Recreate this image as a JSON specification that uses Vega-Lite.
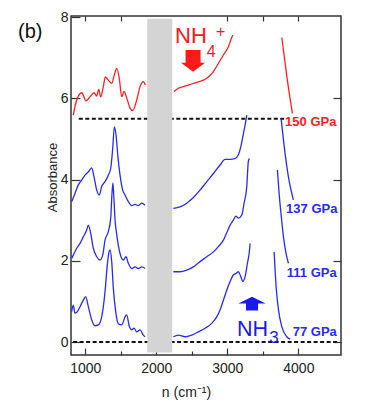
{
  "$schema": "https://vega.github.io/schema/vega-lite/v6.json",
  "width": 270,
  "height": 339,
  "autosize": {"type": "none"},
  "padding": {"left": 71, "top": 16, "right": 24, "bottom": 59},
  "background": "white",
  "config": {
    "view": {"stroke": "#333", "strokeWidth": 1.5},
    "font": "Liberation Sans",
    "axis": {"labelFont": "Liberation Sans", "titleFont": "Liberation Sans", "labelColor": "#222", "titleColor": "#222", "tickColor": "#333", "domain": false, "grid": false}
  },
  "resolve": {"axis": {"x": "independent", "y": "independent"}},
  "layer": [
    {
      "data": {"values": [{"x": 910, "x2": 3800, "y": 5.5}, {"x": 830, "x2": 4560, "y": 0}]},
      "mark": {"type": "rule", "strokeDash": [4, 2.5], "strokeWidth": 2, "color": "#111"},
      "encoding": {
        "x": {"field": "x", "type": "quantitative", "scale": {"domain": [800, 4600], "nice": false, "zero": false},
          "axis": {"orient": "bottom", "values": [1000, 1500, 2000, 2500, 3000, 3500, 4000], "format": "d",
            "labelExpr": "datum.value % 1000 === 0 ? datum.label : ''",
            "tickSize": {"condition": {"test": "datum.value % 1000 === 0", "value": -7}, "value": -4},
            "tickWidth": 1.2, "labelFontSize": 14, "labelPadding": 13,
            "title": "n (cm⁻¹)", "titleFontSize": 14, "titleFontWeight": "normal", "titleX": 115, "titleY": 30, "titleBaseline": "top"}},
        "x2": {"field": "x2"},
        "y": {"field": "y", "type": "quantitative", "scale": {"domain": [-0.32, 8.03], "nice": false, "zero": false},
          "axis": {"orient": "left", "values": [0, 2, 4, 6, 8], "tickSize": -9, "tickWidth": 1.2, "labelFontSize": 14, "labelPadding": 12,
            "title": "Absorbance", "titleFontSize": 13, "titleFontWeight": "normal", "titleX": -19, "titleY": 161, "titleBaseline": "middle"}}
      }
    },
    {
      "data": {"values": [{"x": 1873, "x2": 2225, "y": -0.26, "y2": 7.96}]},
      "mark": {"type": "rect", "color": "#d4d4d4"},
      "encoding": {
        "x": {"field": "x", "type": "quantitative", "scale": {"domain": [800, 4600], "nice": false, "zero": false},
          "axis": {"orient": "top", "values": [1000, 1500, 3000, 3500, 4000], "labels": false, "tickSize": -5, "tickWidth": 1.2, "title": null}},
        "x2": {"field": "x2"},
        "y": {"field": "y", "type": "quantitative", "scale": {"domain": [-0.32, 8.03], "nice": false, "zero": false},
          "axis": {"orient": "right", "values": [0, 2, 4, 6], "labels": false, "tickSize": -8, "tickWidth": 1.2, "title": null}},
        "y2": {"field": "y2"}
      }
    },
    {
      "data": {"values": [
        {"p": "150 GPa", "seg": "150a", "x": 832, "y": 5.59},
        {"p": "150 GPa", "seg": "150a", "x": 880, "y": 5.96},
        {"p": "150 GPa", "seg": "150a", "x": 951, "y": 6.14},
        {"p": "150 GPa", "seg": "150a", "x": 1011, "y": 5.94},
        {"p": "150 GPa", "seg": "150a", "x": 1068, "y": 6.04},
        {"p": "150 GPa", "seg": "150a", "x": 1124, "y": 6.14},
        {"p": "150 GPa", "seg": "150a", "x": 1162, "y": 6.06},
        {"p": "150 GPa", "seg": "150a", "x": 1190, "y": 6.22},
        {"p": "150 GPa", "seg": "150a", "x": 1218, "y": 6.04},
        {"p": "150 GPa", "seg": "150a", "x": 1255, "y": 6.29},
        {"p": "150 GPa", "seg": "150a", "x": 1283, "y": 6.53},
        {"p": "150 GPa", "seg": "150a", "x": 1325, "y": 6.45},
        {"p": "150 GPa", "seg": "150a", "x": 1373, "y": 6.37},
        {"p": "150 GPa", "seg": "150a", "x": 1410, "y": 6.58},
        {"p": "150 GPa", "seg": "150a", "x": 1444, "y": 6.74},
        {"p": "150 GPa", "seg": "150a", "x": 1480, "y": 6.49},
        {"p": "150 GPa", "seg": "150a", "x": 1514, "y": 6.04},
        {"p": "150 GPa", "seg": "150a", "x": 1546, "y": 6.17},
        {"p": "150 GPa", "seg": "150a", "x": 1593, "y": 5.96},
        {"p": "150 GPa", "seg": "150a", "x": 1631, "y": 5.76},
        {"p": "150 GPa", "seg": "150a", "x": 1669, "y": 5.70},
        {"p": "150 GPa", "seg": "150a", "x": 1725, "y": 5.96},
        {"p": "150 GPa", "seg": "150a", "x": 1772, "y": 6.29},
        {"p": "150 GPa", "seg": "150a", "x": 1818, "y": 6.41},
        {"p": "150 GPa", "seg": "150a", "x": 1846, "y": 6.33},
        {"p": "150 GPa", "seg": "150b", "x": 2250, "y": 6.17},
        {"p": "150 GPa", "seg": "150b", "x": 2311, "y": 6.25},
        {"p": "150 GPa", "seg": "150b", "x": 2381, "y": 6.29},
        {"p": "150 GPa", "seg": "150b", "x": 2452, "y": 6.33},
        {"p": "150 GPa", "seg": "150b", "x": 2522, "y": 6.37},
        {"p": "150 GPa", "seg": "150b", "x": 2592, "y": 6.41},
        {"p": "150 GPa", "seg": "150b", "x": 2663, "y": 6.45},
        {"p": "150 GPa", "seg": "150b", "x": 2733, "y": 6.53},
        {"p": "150 GPa", "seg": "150b", "x": 2804, "y": 6.66},
        {"p": "150 GPa", "seg": "150b", "x": 2874, "y": 6.86},
        {"p": "150 GPa", "seg": "150b", "x": 2945, "y": 7.07},
        {"p": "150 GPa", "seg": "150b", "x": 3015, "y": 7.27},
        {"p": "150 GPa", "seg": "150b", "x": 3049, "y": 7.44},
        {"p": "150 GPa", "seg": "150b", "x": 3077, "y": 7.56},
        {"p": "150 GPa", "seg": "150c", "x": 3767, "y": 7.50},
        {"p": "150 GPa", "seg": "150c", "x": 3837, "y": 6.55},
        {"p": "150 GPa", "seg": "150c", "x": 3916, "y": 5.63},
        {"p": "137 GPa", "seg": "137a", "x": 810, "y": 3.46},
        {"p": "137 GPa", "seg": "137a", "x": 856, "y": 3.66},
        {"p": "137 GPa", "seg": "137a", "x": 903, "y": 3.87},
        {"p": "137 GPa", "seg": "137a", "x": 951, "y": 3.99},
        {"p": "137 GPa", "seg": "137a", "x": 997, "y": 4.11},
        {"p": "137 GPa", "seg": "137a", "x": 1044, "y": 4.19},
        {"p": "137 GPa", "seg": "137a", "x": 1091, "y": 4.29},
        {"p": "137 GPa", "seg": "137a", "x": 1124, "y": 4.07},
        {"p": "137 GPa", "seg": "137a", "x": 1162, "y": 3.74},
        {"p": "137 GPa", "seg": "137a", "x": 1198, "y": 3.62},
        {"p": "137 GPa", "seg": "137a", "x": 1232, "y": 3.83},
        {"p": "137 GPa", "seg": "137a", "x": 1279, "y": 3.95},
        {"p": "137 GPa", "seg": "137a", "x": 1325, "y": 4.11},
        {"p": "137 GPa", "seg": "137a", "x": 1359, "y": 4.28},
        {"p": "137 GPa", "seg": "137a", "x": 1387, "y": 4.77},
        {"p": "137 GPa", "seg": "137a", "x": 1410, "y": 5.30},
        {"p": "137 GPa", "seg": "137a", "x": 1434, "y": 5.10},
        {"p": "137 GPa", "seg": "137a", "x": 1458, "y": 4.61},
        {"p": "137 GPa", "seg": "137a", "x": 1490, "y": 4.11},
        {"p": "137 GPa", "seg": "137a", "x": 1528, "y": 3.74},
        {"p": "137 GPa", "seg": "137a", "x": 1560, "y": 3.62},
        {"p": "137 GPa", "seg": "137a", "x": 1607, "y": 3.46},
        {"p": "137 GPa", "seg": "137a", "x": 1655, "y": 3.36},
        {"p": "137 GPa", "seg": "137a", "x": 1701, "y": 3.39},
        {"p": "137 GPa", "seg": "137a", "x": 1748, "y": 3.36},
        {"p": "137 GPa", "seg": "137a", "x": 1795, "y": 3.42},
        {"p": "137 GPa", "seg": "137a", "x": 1842, "y": 3.37},
        {"p": "137 GPa", "seg": "137b", "x": 2240, "y": 3.29},
        {"p": "137 GPa", "seg": "137b", "x": 2335, "y": 3.33},
        {"p": "137 GPa", "seg": "137b", "x": 2429, "y": 3.42},
        {"p": "137 GPa", "seg": "137b", "x": 2522, "y": 3.56},
        {"p": "137 GPa", "seg": "137b", "x": 2616, "y": 3.74},
        {"p": "137 GPa", "seg": "137b", "x": 2711, "y": 3.95},
        {"p": "137 GPa", "seg": "137b", "x": 2804, "y": 4.15},
        {"p": "137 GPa", "seg": "137b", "x": 2898, "y": 4.36},
        {"p": "137 GPa", "seg": "137b", "x": 2968, "y": 4.50},
        {"p": "137 GPa", "seg": "137b", "x": 3039, "y": 4.50},
        {"p": "137 GPa", "seg": "137b", "x": 3109, "y": 4.52},
        {"p": "137 GPa", "seg": "137b", "x": 3156, "y": 4.61},
        {"p": "137 GPa", "seg": "137b", "x": 3190, "y": 4.81},
        {"p": "137 GPa", "seg": "137b", "x": 3218, "y": 5.06},
        {"p": "137 GPa", "seg": "137b", "x": 3250, "y": 5.34},
        {"p": "137 GPa", "seg": "137b", "x": 3274, "y": 5.59},
        {"p": "137 GPa", "seg": "137c", "x": 3757, "y": 5.51},
        {"p": "137 GPa", "seg": "137c", "x": 3790, "y": 4.98},
        {"p": "137 GPa", "seg": "137c", "x": 3813, "y": 4.64},
        {"p": "137 GPa", "seg": "137c", "x": 3860, "y": 4.07},
        {"p": "137 GPa", "seg": "137c", "x": 3930, "y": 3.50},
        {"p": "111 GPa", "seg": "111a", "x": 810, "y": 2.06},
        {"p": "111 GPa", "seg": "111a", "x": 832, "y": 2.14},
        {"p": "111 GPa", "seg": "111a", "x": 880, "y": 2.31},
        {"p": "111 GPa", "seg": "111a", "x": 927, "y": 2.43},
        {"p": "111 GPa", "seg": "111a", "x": 973, "y": 2.59},
        {"p": "111 GPa", "seg": "111a", "x": 1021, "y": 2.76},
        {"p": "111 GPa", "seg": "111a", "x": 1044, "y": 2.88},
        {"p": "111 GPa", "seg": "111a", "x": 1077, "y": 2.68},
        {"p": "111 GPa", "seg": "111a", "x": 1114, "y": 2.31},
        {"p": "111 GPa", "seg": "111a", "x": 1162, "y": 2.10},
        {"p": "111 GPa", "seg": "111a", "x": 1208, "y": 2.02},
        {"p": "111 GPa", "seg": "111a", "x": 1246, "y": 2.14},
        {"p": "111 GPa", "seg": "111a", "x": 1279, "y": 2.51},
        {"p": "111 GPa", "seg": "111a", "x": 1325, "y": 2.72},
        {"p": "111 GPa", "seg": "111a", "x": 1359, "y": 3.05},
        {"p": "111 GPa", "seg": "111a", "x": 1375, "y": 3.60},
        {"p": "111 GPa", "seg": "111a", "x": 1390, "y": 3.92},
        {"p": "111 GPa", "seg": "111a", "x": 1405, "y": 3.50},
        {"p": "111 GPa", "seg": "111a", "x": 1420, "y": 3.00},
        {"p": "111 GPa", "seg": "111a", "x": 1444, "y": 2.64},
        {"p": "111 GPa", "seg": "111a", "x": 1490, "y": 2.18},
        {"p": "111 GPa", "seg": "111a", "x": 1536, "y": 2.02},
        {"p": "111 GPa", "seg": "111a", "x": 1574, "y": 2.10},
        {"p": "111 GPa", "seg": "111a", "x": 1607, "y": 1.94},
        {"p": "111 GPa", "seg": "111a", "x": 1655, "y": 1.81},
        {"p": "111 GPa", "seg": "111a", "x": 1701, "y": 1.85},
        {"p": "111 GPa", "seg": "111a", "x": 1748, "y": 1.81},
        {"p": "111 GPa", "seg": "111a", "x": 1795, "y": 1.85},
        {"p": "111 GPa", "seg": "111a", "x": 1842, "y": 1.81},
        {"p": "111 GPa", "seg": "111b", "x": 2240, "y": 1.73},
        {"p": "111 GPa", "seg": "111b", "x": 2335, "y": 1.73},
        {"p": "111 GPa", "seg": "111b", "x": 2429, "y": 1.77},
        {"p": "111 GPa", "seg": "111b", "x": 2522, "y": 1.85},
        {"p": "111 GPa", "seg": "111b", "x": 2616, "y": 1.98},
        {"p": "111 GPa", "seg": "111b", "x": 2711, "y": 2.10},
        {"p": "111 GPa", "seg": "111b", "x": 2804, "y": 2.22},
        {"p": "111 GPa", "seg": "111b", "x": 2874, "y": 2.35},
        {"p": "111 GPa", "seg": "111b", "x": 2945, "y": 2.51},
        {"p": "111 GPa", "seg": "111b", "x": 2993, "y": 2.70},
        {"p": "111 GPa", "seg": "111b", "x": 3039, "y": 2.88},
        {"p": "111 GPa", "seg": "111b", "x": 3085, "y": 3.00},
        {"p": "111 GPa", "seg": "111b", "x": 3120, "y": 3.10},
        {"p": "111 GPa", "seg": "111b", "x": 3156, "y": 3.05},
        {"p": "111 GPa", "seg": "111b", "x": 3204, "y": 3.13},
        {"p": "111 GPa", "seg": "111b", "x": 3236, "y": 3.42},
        {"p": "111 GPa", "seg": "111b", "x": 3274, "y": 3.83},
        {"p": "111 GPa", "seg": "111b", "x": 3296, "y": 4.45},
        {"p": "111 GPa", "seg": "111b", "x": 3311, "y": 4.52},
        {"p": "111 GPa", "seg": "111c", "x": 3705, "y": 4.24},
        {"p": "111 GPa", "seg": "111c", "x": 3729, "y": 3.66},
        {"p": "111 GPa", "seg": "111c", "x": 3765, "y": 3.00},
        {"p": "111 GPa", "seg": "111c", "x": 3790, "y": 2.59},
        {"p": "111 GPa", "seg": "111c", "x": 3827, "y": 2.18},
        {"p": "111 GPa", "seg": "111c", "x": 3860, "y": 1.94},
        {"p": "77 GPa", "seg": "77a", "x": 810, "y": 0.75},
        {"p": "77 GPa", "seg": "77a", "x": 832, "y": 0.91},
        {"p": "77 GPa", "seg": "77a", "x": 856, "y": 0.71},
        {"p": "77 GPa", "seg": "77a", "x": 889, "y": 0.75},
        {"p": "77 GPa", "seg": "77a", "x": 927, "y": 0.87},
        {"p": "77 GPa", "seg": "77a", "x": 973, "y": 1.03},
        {"p": "77 GPa", "seg": "77a", "x": 1007, "y": 1.12},
        {"p": "77 GPa", "seg": "77a", "x": 1044, "y": 0.87},
        {"p": "77 GPa", "seg": "77a", "x": 1091, "y": 0.55},
        {"p": "77 GPa", "seg": "77a", "x": 1138, "y": 0.40},
        {"p": "77 GPa", "seg": "77a", "x": 1184, "y": 0.42},
        {"p": "77 GPa", "seg": "77a", "x": 1232, "y": 0.62},
        {"p": "77 GPa", "seg": "77a", "x": 1279, "y": 1.24},
        {"p": "77 GPa", "seg": "77a", "x": 1311, "y": 1.90},
        {"p": "77 GPa", "seg": "77a", "x": 1335, "y": 2.22},
        {"p": "77 GPa", "seg": "77a", "x": 1349, "y": 2.27},
        {"p": "77 GPa", "seg": "77a", "x": 1373, "y": 1.98},
        {"p": "77 GPa", "seg": "77a", "x": 1396, "y": 1.32},
        {"p": "77 GPa", "seg": "77a", "x": 1429, "y": 0.75},
        {"p": "77 GPa", "seg": "77a", "x": 1466, "y": 0.45},
        {"p": "77 GPa", "seg": "77a", "x": 1514, "y": 0.42},
        {"p": "77 GPa", "seg": "77a", "x": 1560, "y": 0.62},
        {"p": "77 GPa", "seg": "77a", "x": 1584, "y": 0.67},
        {"p": "77 GPa", "seg": "77a", "x": 1621, "y": 0.38},
        {"p": "77 GPa", "seg": "77a", "x": 1655, "y": 0.30},
        {"p": "77 GPa", "seg": "77a", "x": 1687, "y": 0.34},
        {"p": "77 GPa", "seg": "77a", "x": 1725, "y": 0.25},
        {"p": "77 GPa", "seg": "77a", "x": 1772, "y": 0.30},
        {"p": "77 GPa", "seg": "77a", "x": 1818, "y": 0.17},
        {"p": "77 GPa", "seg": "77a", "x": 1842, "y": 0.13},
        {"p": "77 GPa", "seg": "77b", "x": 2240, "y": 0.13},
        {"p": "77 GPa", "seg": "77b", "x": 2311, "y": 0.17},
        {"p": "77 GPa", "seg": "77b", "x": 2405, "y": 0.13},
        {"p": "77 GPa", "seg": "77b", "x": 2499, "y": 0.17},
        {"p": "77 GPa", "seg": "77b", "x": 2592, "y": 0.25},
        {"p": "77 GPa", "seg": "77b", "x": 2687, "y": 0.34},
        {"p": "77 GPa", "seg": "77b", "x": 2781, "y": 0.46},
        {"p": "77 GPa", "seg": "77b", "x": 2851, "y": 0.62},
        {"p": "77 GPa", "seg": "77b", "x": 2898, "y": 0.79},
        {"p": "77 GPa", "seg": "77b", "x": 2945, "y": 1.03},
        {"p": "77 GPa", "seg": "77b", "x": 2993, "y": 1.28},
        {"p": "77 GPa", "seg": "77b", "x": 3039, "y": 1.49},
        {"p": "77 GPa", "seg": "77b", "x": 3085, "y": 1.65},
        {"p": "77 GPa", "seg": "77b", "x": 3123, "y": 1.69},
        {"p": "77 GPa", "seg": "77b", "x": 3156, "y": 1.73},
        {"p": "77 GPa", "seg": "77b", "x": 3190, "y": 1.61},
        {"p": "77 GPa", "seg": "77b", "x": 3218, "y": 1.49},
        {"p": "77 GPa", "seg": "77b", "x": 3250, "y": 1.61},
        {"p": "77 GPa", "seg": "77b", "x": 3283, "y": 1.94},
        {"p": "77 GPa", "seg": "77b", "x": 3307, "y": 2.18},
        {"p": "77 GPa", "seg": "77b", "x": 3321, "y": 2.43},
        {"p": "77 GPa", "seg": "77c", "x": 3659, "y": 2.22},
        {"p": "77 GPa", "seg": "77c", "x": 3687, "y": 1.36},
        {"p": "77 GPa", "seg": "77c", "x": 3720, "y": 0.79},
        {"p": "77 GPa", "seg": "77c", "x": 3767, "y": 0.38},
        {"p": "77 GPa", "seg": "77c", "x": 3837, "y": 0.13},
        {"p": "77 GPa", "seg": "77c", "x": 3884, "y": 0.07}
      ]},
      "mark": {"type": "line", "strokeWidth": 1.3, "interpolate": "monotone"},
      "encoding": {
        "x": {"field": "x", "type": "quantitative", "scale": {"domain": [800, 4600], "nice": false, "zero": false}, "axis": null},
        "y": {"field": "y", "type": "quantitative", "scale": {"domain": [-0.32, 8.03], "nice": false, "zero": false}, "axis": null},
        "color": {"field": "p", "type": "nominal", "scale": {"domain": ["150 GPa", "137 GPa", "111 GPa", "77 GPa"], "range": ["#ff2020", "#2a2af5", "#2a2af5", "#2a2af5"]}, "legend": null},
        "detail": {"field": "seg"}
      }
    },
    {
      "data": {"values": [
        {"p": "150 GPa", "x": 3813, "y": 5.42},
        {"p": "137 GPa", "x": 3827, "y": 3.28},
        {"p": "111 GPa", "x": 3837, "y": 1.69},
        {"p": "77 GPa", "x": 3921, "y": 0.25}
      ]},
      "mark": {"type": "text", "fontSize": 13, "fontWeight": "bold", "align": "left", "baseline": "middle"},
      "encoding": {
        "x": {"field": "x", "type": "quantitative", "scale": {"domain": [800, 4600], "nice": false, "zero": false}, "axis": null},
        "y": {"field": "y", "type": "quantitative", "scale": {"domain": [-0.32, 8.03], "nice": false, "zero": false}, "axis": null},
        "text": {"field": "p"},
        "color": {"field": "p", "type": "nominal", "legend": null}
      }
    },
    {
      "data": {"values": [{"t": "NH", "x": 2264, "y": 7.36}]},
      "mark": {"type": "text", "fontSize": 22, "align": "left", "baseline": "alphabetic", "color": "#ff1a1a"},
      "encoding": {
        "x": {"field": "x", "type": "quantitative", "axis": null},
        "y": {"field": "y", "type": "quantitative", "axis": null},
        "text": {"field": "t"}
      }
    },
    {
      "data": {"values": [{"t": "4", "x": 2712, "y": 7.03}, {"t": "+", "x": 2842, "y": 7.52}]},
      "mark": {"type": "text", "fontSize": 16, "align": "left", "baseline": "alphabetic", "color": "#ff1a1a"},
      "encoding": {
        "x": {"field": "x", "type": "quantitative", "axis": null},
        "y": {"field": "y", "type": "quantitative", "axis": null},
        "text": {"field": "t"}
      }
    },
    {
      "data": {"values": [{"t": "NH", "x": 3137, "y": 0.148}]},
      "mark": {"type": "text", "fontSize": 21.5, "align": "left", "baseline": "alphabetic", "color": "#1a1aee"},
      "encoding": {
        "x": {"field": "x", "type": "quantitative", "axis": null},
        "y": {"field": "y", "type": "quantitative", "axis": null},
        "text": {"field": "t"}
      }
    },
    {
      "data": {"values": [{"t": "3", "x": 3590, "y": -0.025}]},
      "mark": {"type": "text", "fontSize": 17, "align": "left", "baseline": "alphabetic", "color": "#1a1aee"},
      "encoding": {
        "x": {"field": "x", "type": "quantitative", "axis": null},
        "y": {"field": "y", "type": "quantitative", "axis": null},
        "text": {"field": "t"}
      }
    },
    {
      "data": {"values": [{"x": 2518, "y": 6.925}]},
      "mark": {"type": "point", "filled": true, "opacity": 1, "color": "#ff1a1a", "size": 576, "shape": "M-0.625,-0.9L0.625,-0.9L0.625,0.15L1,0.15L0,0.9L-1,0.15L-0.625,0.15Z"},
      "encoding": {
        "x": {"field": "x", "type": "quantitative", "axis": null},
        "y": {"field": "y", "type": "quantitative", "axis": null}
      }
    },
    {
      "data": {"values": [{"x": 3348, "y": 0.948}]},
      "mark": {"type": "point", "filled": true, "opacity": 1, "color": "#1a1aee", "size": 784, "shape": "M0,-0.49L0.98,0L0.43,0L0.43,0.49L-0.43,0.49L-0.43,0L-0.98,0Z"},
      "encoding": {
        "x": {"field": "x", "type": "quantitative", "axis": null},
        "y": {"field": "y", "type": "quantitative", "axis": null}
      }
    },
    {
      "data": {"values": [{"t": "(b)", "x": 54, "y": 7.64}]},
      "mark": {"type": "text", "fontSize": 20, "align": "left", "baseline": "middle", "color": "#111"},
      "encoding": {
        "x": {"field": "x", "type": "quantitative", "axis": null},
        "y": {"field": "y", "type": "quantitative", "axis": null},
        "text": {"field": "t"}
      }
    }
  ]
}
